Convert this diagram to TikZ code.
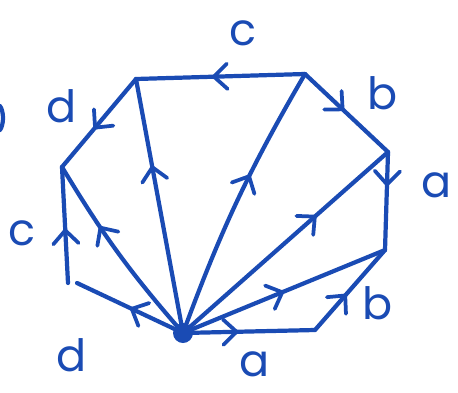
\documentclass[tikz,border=0pt]{standalone}
\usepackage{fontspec}
\setmainfont{Poppins}
\usetikzlibrary{arrows.meta,decorations.markings}
\definecolor{ink}{HTML}{1A4BB4}
\tikzset{
  edge/.style ={ink,line width=3.6pt,line cap=round,line join=round},
  mid/.style  ={edge,postaction={decorate},decoration={markings,
                mark=at position #1 with {\arrow[ink,line width=3.2pt]{Straight Barb[round,length=4mm,width=7.6mm]}}}},
  lbl/.style  ={ink,inner sep=0pt,font=\fontsize{38}{38}\selectfont},
}
\begin{document}
\begin{tikzpicture}[x=0.03cm,y=-0.03cm]
    \useasboundingbox (0,0) rectangle (458,392);

    % corners of the polygon
    \coordinate (o)   at (183,333);
    \coordinate (br)  at (315,330);
    \coordinate (rl)  at (385,250);
    \coordinate (rt)  at (388,152);
    \coordinate (tr)  at (305,74);
    \coordinate (tl)  at (136,79);
    \coordinate (lt)  at (62,167);
    \coordinate (lb)  at (68,283);
    \coordinate (lb2) at (77,283);

    % boundary edges
    \draw[mid=0.42] (o)  -- (br);
    \draw[mid=0.45] (br) -- (rl);
    \draw[mid=0.35] (rt) -- (rl);
    \draw[mid=0.47] (tr) -- (rt);
    \draw[mid=0.55] (tr) -- (tl);
    \draw[mid=0.57] (tl) -- (lt);
    \draw[mid=0.47] (lb) -- (lt);
    \draw[mid=0.50] (o)  -- (lb2);

    % fan from the base point
    \draw[mid=0.66] (o) to[bend left=5] (lt);
    \draw[mid=0.66] (o) -- (tl);
    \draw[mid=0.60] (o) to[bend left=5] (tr);
    \foreach \v/\p in {rt/0.65,rl/0.5} \draw[mid=\p] (o) -- (\v);
    \fill[ink] (o) circle[radius=3mm];

    % labels
    \node[lbl] (c1) at (243,33)  {c};
    \node[lbl] (b1) at (383,93)  {b};
    \node[lbl] (a1) at (437,185) {a};
    \node[lbl] (b2) at (378,303) {b};
    \node[lbl] (a2) at (255,364) {a};
    \node[lbl] (d1) at (72,355)  {d};
    \node[lbl] (c2) at (22,233)  {c};
    \node[lbl] (d2) at (62,106)  {d};

    % stray stroke at the edge
    \draw[edge] (0,106) .. controls (4,112) and (4,124) .. (0,130);
\end{tikzpicture}
\end{document}
